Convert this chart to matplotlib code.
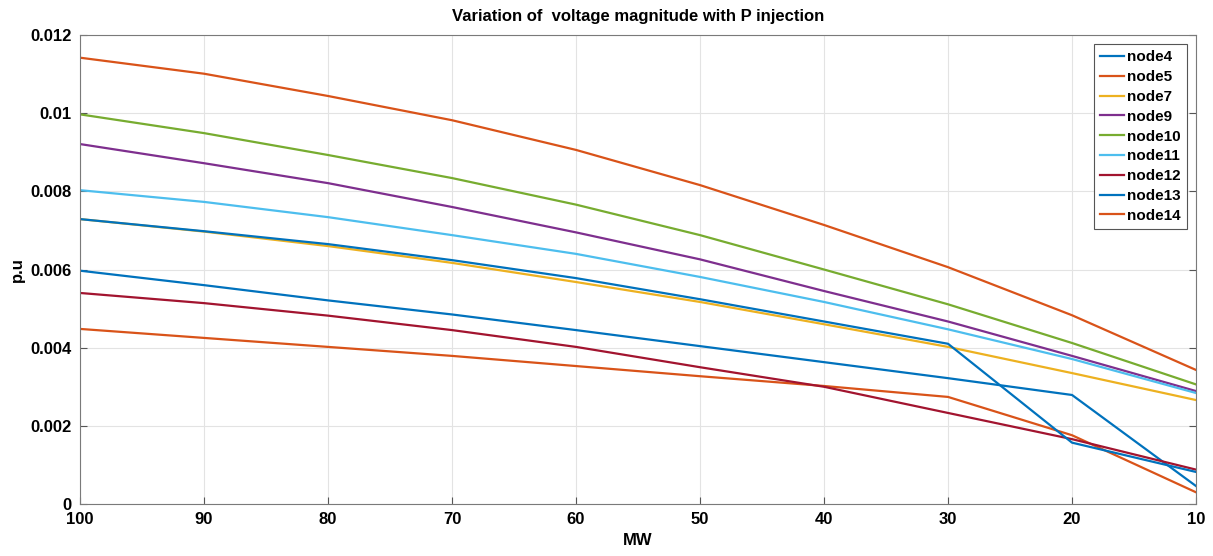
import matplotlib.pyplot as plt
import numpy as np
from matplotlib.ticker import FuncFormatter

plt.rcParams['font.family'] = ['Liberation Sans', 'DejaVu Sans']
plt.rcParams['font.weight'] = 'bold'

# injected power (MW)
mw = [100, 90, 80, 70, 60, 50, 40, 30, 20, 10]

# voltage magnitude variation (p.u) per node
node4 = [0.00597, 0.00560, 0.00521, 0.00485, 0.00445, 0.00404, 0.00363, 0.00322, 0.00279, 0.00046]
node5 = [0.00448, 0.00425, 0.00402, 0.00379, 0.00353, 0.00327, 0.00302, 0.00274, 0.00176, 0.00030]
node7 = [0.00729, 0.00697, 0.00660, 0.00617, 0.00568, 0.00517, 0.00460, 0.00402, 0.00335, 0.00266]
node9 = [0.00921, 0.00872, 0.00821, 0.00760, 0.00695, 0.00626, 0.00545, 0.00467, 0.00379, 0.00289]
node10 = [0.00997, 0.00949, 0.00893, 0.00834, 0.00766, 0.00688, 0.00600, 0.00511, 0.00412, 0.00306]
node11 = [0.00803, 0.00773, 0.00734, 0.00688, 0.00640, 0.00581, 0.00517, 0.00447, 0.00371, 0.00284]
node12 = [0.00540, 0.00514, 0.00482, 0.00445, 0.00402, 0.00350, 0.00300, 0.00233, 0.00166, 0.00088]
node13 = [0.00729, 0.00698, 0.00665, 0.00624, 0.00578, 0.00524, 0.00467, 0.00410, 0.00157, 0.00082]
node14 = [0.01142, 0.01101, 0.01044, 0.00982, 0.00906, 0.00816, 0.00714, 0.00606, 0.00483, 0.00343]

series = [('node4', node4), ('node5', node5), ('node7', node7), ('node9', node9),
          ('node10', node10), ('node11', node11), ('node12', node12),
          ('node13', node13), ('node14', node14)]
colors = ['#0072BD', '#D95319', '#EDB120', '#7E2F8E', '#77AC30',
          '#4DBEEE', '#A2142F', '#0072BD', '#D95319']

fig = plt.figure(figsize=(12.13, 5.56), dpi=100)
ax = fig.add_axes([0.066, 0.0935, 0.92, 0.8435])

for (name, vals), c in zip(series, colors):
    ax.plot(mw, vals, color=c, linewidth=1.6, label=name)

ax.set_xlim(100, 10)
ax.set_ylim(0, 0.012)
ax.set_xticks(mw)
ax.set_yticks(np.arange(0, 0.0121, 0.002))
ax.yaxis.set_major_formatter(FuncFormatter(lambda v, p: '%g' % round(v, 4)))
ax.grid(True, color='#e3e3e3', linewidth=0.8)
ax.set_axisbelow(True)
for s in ax.spines.values():
    s.set_color('#7a7a7a')
    s.set_linewidth(0.8)
ax.tick_params(direction='in', length=5, width=0.8, color='#555555',
               labelsize=12, pad=6, top=False, right=True)
for lab in ax.get_xticklabels() + ax.get_yticklabels():
    lab.set_fontweight('bold')

ax.set_title('Variation of  voltage magnitude with P injection', fontsize=12,
             fontweight='bold', pad=10)
ax.set_xlabel('MW', fontsize=12, fontweight='bold', labelpad=4)
ax.set_ylabel('p.u', fontsize=12, fontweight='bold', labelpad=4)

leg = ax.legend(loc='upper right', fontsize=11, handlelength=1.6,
                handletextpad=0.2, labelspacing=0.38, borderpad=0.4,
                fancybox=False, framealpha=1, borderaxespad=0.6)
leg.get_frame().set_edgecolor('#555555')
leg.get_frame().set_linewidth(0.8)
for t in leg.get_texts():
    t.set_fontweight('bold')

fig.savefig('out.png', dpi=100)
